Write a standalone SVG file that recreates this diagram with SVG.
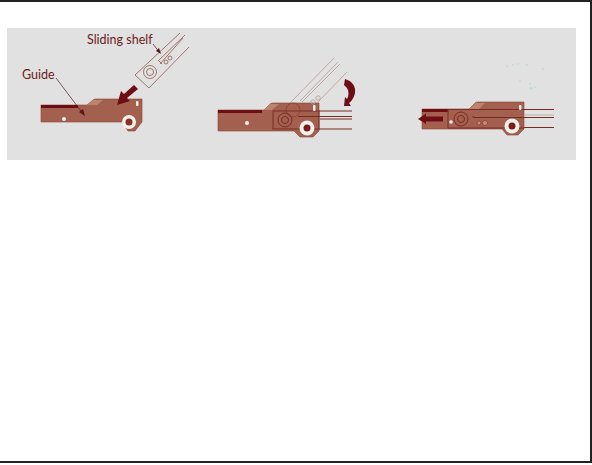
<svg xmlns="http://www.w3.org/2000/svg" width="592" height="465" viewBox="0 0 592 465">
<style>
.g{fill:#a4614f;stroke:#8a4334;stroke-width:.6}
.d{fill:#6e0f12}
.l{fill:none;stroke:#7a2a24;stroke-width:1}
.t{fill:none;stroke:#b79a92;stroke-width:.8}
.s{fill:none;stroke:#8d5a50;stroke-width:.8}
.w{fill:#f4f0ea}
.h{fill:#c98f7c;stroke:#8a3a2c;stroke-width:.8}
text{font-family:Lato,"Liberation Sans",sans-serif;font-size:12.500px;fill:#6a1c1c}
</style>
<defs><filter id="b" x="-5%" y="-5%" width="110%" height="110%"><feGaussianBlur stdDeviation="0.4"/></filter></defs>
<rect x="0" y="0" width="592" height="465" fill="#fff"/>
<path d="M0 1H591V462H0" fill="none" stroke="#222" stroke-width="2"/>
<rect x="7" y="28" width="569" height="132" fill="#e1e1e1"/>
<g id="step1" filter="url(#b)">
<path class="g" d="M41 105H87L93 100Q94 99 96 99H142V122L135 131H128L122 122H41Z"/>
<path d="M87 105L93 100H103L97 105Z" fill="#bb8470"/>
<rect class="d" x="41" y="105" width="37" height="3"/>
<circle class="w" cx="64" cy="119" r="2"/>
<rect class="w" x="136" y="101" width="2.500" height="5" rx="1"/>
<circle class="w" cx="129" cy="122" r="7"/>
<circle cx="129" cy="122" r="3.500" fill="#8a2f28"/>
<path class="d" d="M134 85L124 94L121 91L117 105L130 101L127 98L138 89Z"/>
<path d="M135 75L180 33M135 75L149 88M149 88L189 47M158 61L185 35M160 64L183 38M159 61L162 64" class="s"/>
<circle class="s" cx="150" cy="72" r="6.500"/>
<circle class="s" cx="150" cy="72" r="3.500"/>
<circle class="s" cx="166" cy="62" r="2"/>
<circle class="s" cx="170" cy="58" r="2"/>
</g>
<g id="step2" filter="url(#b)">
<path class="g" d="M218 110H264L270 104Q271 103 273 103H319V131L313 137H300L294 131H218Z"/>
<rect class="d" x="218" y="110" width="44" height="3"/>
<path d="M264 110L270 104H279L272 110Z" fill="#bb8470"/>
<circle class="w" cx="247" cy="123" r="2"/>
<rect class="l" x="273" y="111" width="46" height="18"/>
<circle class="l" cx="285" cy="120" r="7"/>
<circle class="l" cx="285" cy="120" r="3.500"/>
<circle class="l" cx="293" cy="110" r="7" opacity=".5"/>
<rect class="w" x="313" y="105" width="2.500" height="6" rx="1"/>
<circle class="w" cx="307" cy="128" r="7.500"/>
<circle cx="307" cy="128" r="3.500" fill="#7a1e1e"/>
<path d="M298 116.500H352M320 119H352M319 111H352M319 129H352" class="l"/>
<path d="M290 103L334 58M300 101L338 62M302 102L340 64M317 103L347 72" class="t"/>
<circle class="t" cx="313" cy="102" r="2.200"/>
<circle class="t" cx="318" cy="98" r="2.200"/>
<path class="d" d="M345 79C352 81 356 86 355 93C354 98 351 102 349 103L351 106L344 106L345 97L347 99C349 96 349 91 347 88C346 87 345 86 344 85Z"/>
</g>
<g id="step3" filter="url(#b)">
<path class="g" d="M422 109H469L475 103Q476 102 478 102H524V129L518 135H507L502 129H422Z"/>
<rect class="d" x="422" y="109" width="26" height="3"/>
<path d="M469 109L475 103H485L479 109Z" fill="#bb8470"/>
<path d="M448 109V128H524" class="l"/>
<path d="M448 109.500H554M524 127.500H554" class="l"/>
<path d="M473 116V117.500H554" class="l"/>
<path d="M524 115H554" stroke="#b8b0aa" fill="none"/>
<circle class="l" cx="461" cy="119" r="7"/>
<circle class="l" cx="461" cy="119" r="3.500"/>
<circle class="w" cx="451" cy="122" r="1.800"/>
<circle class="h" cx="479" cy="123" r="2"/>
<circle class="h" cx="485" cy="123" r="2.500"/>
<rect class="w" x="519" y="105" width="2.500" height="5" rx="1"/>
<circle class="w" cx="512" cy="126" r="7.500"/>
<circle cx="512" cy="126" r="3.500" fill="#7a1e1e"/>
<path class="d" d="M443 116.500H426V113.500L418 119L426 124V121.500H443Z"/>
<g fill="#c4dcd6">
<circle cx="507" cy="66" r="1"/><circle cx="513" cy="65" r="1"/><circle cx="518" cy="64" r="1"/><circle cx="527" cy="65" r="1"/><circle cx="543" cy="69" r="1"/><circle cx="520" cy="81" r="1"/><circle cx="530" cy="84" r="1"/><circle cx="531" cy="88" r="1.500"/><circle cx="535" cy="87" r="1"/>
</g>
</g>
<g id="labels">
<text x="87" y="44">Sliding shelf</text>
<text x="22" y="78.500">Guide</text>
<path d="M56 78L84 115M153 44L160 53" fill="none" stroke="#5a1616" stroke-width=".7"/>
<path d="M161 54L156 51L159 48Z" fill="#5a1616"/>
<path d="M85 116L79 112L83 109Z" fill="#5a1616"/>
</g>
</svg>
